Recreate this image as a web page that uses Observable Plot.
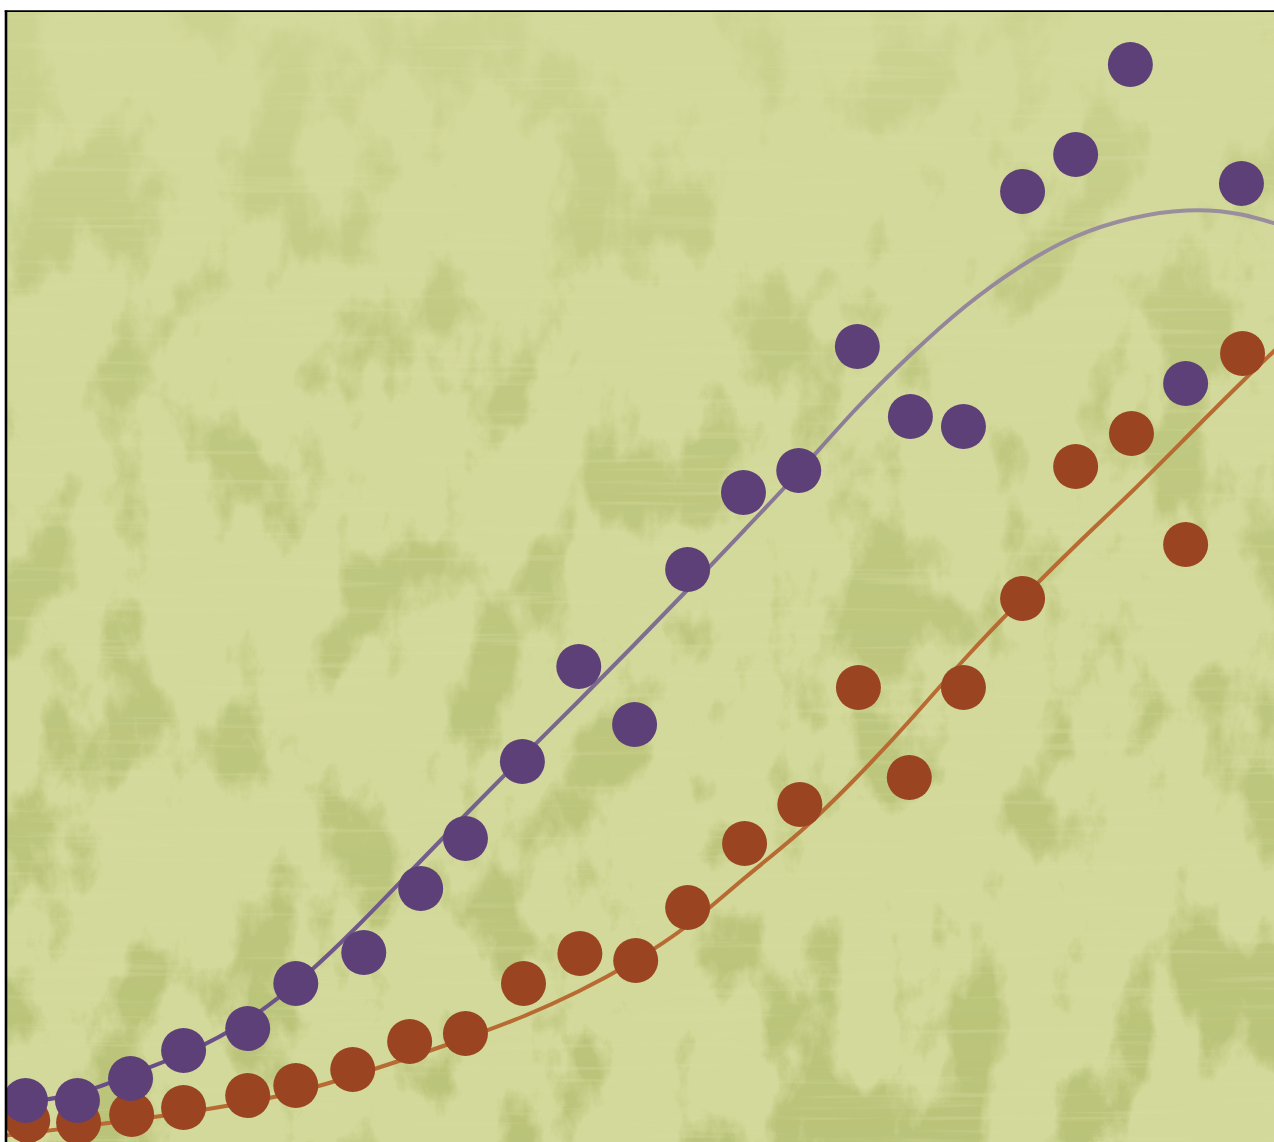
<!DOCTYPE html>
<html>
<head>
<meta charset="utf-8">
<script src="https://cdn.jsdelivr.net/npm/d3@7"></script>
<script src="https://cdn.jsdelivr.net/npm/@observablehq/plot@0.6"></script>
<style>
  html, body { margin: 0; padding: 0; background: #ffffff; }
  #chart svg { display: block; }
</style>
</head>
<body>
<div id="chart"></div>
<script>
// ---- data ----
const purpleX = [1.00, 1.94, 2.90, 3.86, 5.02, 5.89, 7.12, 8.15, 8.96, 9.99, 11.01, 12.02, 12.98, 13.99, 14.99, 16.05, 17.01, 17.97, 19.04, 20.00, 20.99, 21.99, 23.00, 24.00];
const purpleY = [4.2, 4.2, 6.4, 9.2, 11.4, 15.9, 19.0, 25.4, 30.4, 38.1, 47.6, 41.8, 57.3, 65.0, 67.2, 79.6, 72.6, 71.6, 95.1, 98.8, 107.8, 75.9, 95.9, 96.2];

const orangeX = [1.04, 1.96, 2.92, 3.86, 5.02, 5.89, 6.92, 7.95, 8.96, 10.01, 11.03, 12.04, 12.98, 14.01, 15.01, 16.07, 16.99, 17.97, 19.04, 20.00, 21.01, 21.99, 23.02, 24.00];
const orangeY = [2.2, 2.0, 2.8, 3.5, 4.7, 5.7, 7.3, 10.1, 10.9, 15.9, 18.9, 18.2, 23.5, 29.9, 33.8, 45.5, 36.5, 45.5, 54.4, 67.6, 70.9, 59.8, 78.9, 88.6];

// fitted trend curves
const fitX = [0.6, 1, 2, 3, 4, 5, 6, 7, 8, 9, 10, 11, 12, 13, 14, 15, 16, 17, 18, 19, 20, 21, 22, 23, 24];
const purpleFit = [3.7, 4.0, 5.0, 7.0, 9.2, 12.2, 16.4, 21.6, 27.3, 33.0, 38.6, 44.1, 49.7, 55.4, 61.2, 67.1, 73.2, 78.7, 83.6, 87.6, 90.6, 92.4, 93.2, 92.8, 91.2];
const orangeFit = [0.7, 0.9, 1.6, 2.3, 3.1, 4.0, 5.2, 6.8, 8.6, 10.5, 12.6, 15.1, 18.1, 21.8, 26.4, 31.0, 36.3, 42.2, 48.4, 54.2, 59.7, 65.0, 70.5, 76.0, 81.3];

const xDomain = [0.674, 23.598];
const yDomain = [0, 113];

// ---- styling ----
const W = 1274, H = 1142;
const colors = {
  bg: "#d3d99a",
  blotch: [0.73, 0.765, 0.475],
  purple: "#5e4079",
  orange: "#9a4421",
  purpleLineLow: "#674c86",
  purpleLineHigh: "#9a8e9e",
  orangeLine: "#b86a33"
};

const toRows = (xs, ys) => xs.map((x, i) => ({x, y: ys[i]}));
const purple = toRows(purpleX, purpleY);
const orange = toRows(orangeX, orangeY);
const purpleCurve = toRows(fitX, purpleFit);
const orangeCurve = toRows(fitX, orangeFit);

// background texture + gradient defs
function background(index, scales, values, dims) {
  const x0 = dims.marginLeft, y0 = dims.marginTop;
  const w = dims.width - dims.marginLeft - dims.marginRight;
  const h = dims.height - dims.marginTop - dims.marginBottom;
  const g = d3.create("svg:g");
  const defs = g.append("defs");
  const f = defs.append("filter").attr("id", "grunge")
    .attr("filterUnits", "userSpaceOnUse")
    .attr("x", x0).attr("y", y0).attr("width", w).attr("height", h)
    .attr("color-interpolation-filters", "sRGB");
  f.append("feTurbulence").attr("type", "fractalNoise")
    .attr("baseFrequency", "0.013 0.0075").attr("numOctaves", 6).attr("seed", 11).attr("result", "n");
  const [r, gg, b] = colors.blotch;
  f.append("feColorMatrix").attr("in", "n").attr("type", "matrix")
    .attr("values", `0 0 0 0 ${r}  0 0 0 0 ${gg}  0 0 0 0 ${b}  7 0 0 0 -3.6`);

  const f2 = defs.append("filter").attr("id", "streaks")
    .attr("filterUnits", "userSpaceOnUse")
    .attr("x", x0).attr("y", y0).attr("width", w).attr("height", h)
    .attr("color-interpolation-filters", "sRGB");
  f2.append("feTurbulence").attr("type", "fractalNoise")
    .attr("baseFrequency", "0.005 0.14").attr("numOctaves", 3).attr("seed", 3).attr("result", "n");
  f2.append("feColorMatrix").attr("in", "n").attr("type", "matrix")
    .attr("values", `0 0 0 0 0.85  0 0 0 0 0.87  0 0 0 0 0.64  5 0 0 0 -2.9`);

  const grad = defs.append("linearGradient").attr("id", "purpleGrad")
    .attr("gradientUnits", "userSpaceOnUse")
    .attr("x1", 0).attr("x2", 0).attr("y1", scales.y(4)).attr("y2", scales.y(93));
  grad.append("stop").attr("offset", "0%").attr("stop-color", colors.purpleLineLow);
  grad.append("stop").attr("offset", "45%").attr("stop-color", "#7a6890");
  grad.append("stop").attr("offset", "100%").attr("stop-color", colors.purpleLineHigh);

  const fade = defs.append("linearGradient").attr("id", "fadeGrad")
    .attr("gradientUnits", "userSpaceOnUse")
    .attr("x1", 0).attr("x2", 0).attr("y1", y0).attr("y2", dims.height);
  fade.append("stop").attr("offset", "0%").attr("stop-color", "#fff").attr("stop-opacity", 0.25);
  fade.append("stop").attr("offset", "30%").attr("stop-color", "#fff").attr("stop-opacity", 0.75);
  fade.append("stop").attr("offset", "100%").attr("stop-color", "#fff").attr("stop-opacity", 1);
  defs.append("mask").attr("id", "fadeMask").attr("maskUnits", "userSpaceOnUse")
    .attr("x", x0).attr("y", y0).attr("width", w).attr("height", h)
    .append("rect").attr("x", x0).attr("y", y0).attr("width", w).attr("height", h)
    .attr("fill", "url(#fadeGrad)");

  g.append("rect").attr("x", x0).attr("y", y0).attr("width", w).attr("height", h).attr("fill", colors.bg);
  g.append("g").attr("mask", "url(#fadeMask)")
    .append("rect").attr("x", x0).attr("y", y0).attr("width", w).attr("height", h)
    .attr("filter", "url(#grunge)");
  g.append("rect").attr("x", x0).attr("y", y0).attr("width", w).attr("height", h)
    .attr("filter", "url(#streaks)").attr("opacity", 0.3);
  return g.node();
}

function border(index, scales, values, dims) {
  const g = d3.create("svg:g").attr("stroke", "#000").attr("fill", "none");
  g.append("line").attr("x1", dims.marginLeft - 1).attr("x2", dims.marginLeft - 1)
    .attr("y1", dims.marginTop - 1.5).attr("y2", dims.height).attr("stroke-width", 2.6);
  g.append("line").attr("x1", dims.marginLeft - 2.3).attr("x2", dims.width)
    .attr("y1", dims.marginTop - 0.8).attr("y2", dims.marginTop - 0.8).attr("stroke-width", 1.8);
  return g.node();
}

const chart = Plot.plot({
  width: W,
  height: H,
  marginLeft: 7,
  marginTop: 12,
  marginRight: 0,
  marginBottom: 0,
  style: {background: "#ffffff"},
  x: {domain: xDomain, axis: null},
  y: {domain: yDomain, axis: null},
  marks: [
    background,
    Plot.line(orangeCurve, {x: "x", y: "y", stroke: colors.orangeLine, strokeWidth: 4, curve: "natural", clip: true}),
    Plot.dot(orange, {x: "x", y: "y", r: 22.5, fill: colors.orange, stroke: "none", clip: true}),
    Plot.line(purpleCurve, {x: "x", y: "y", stroke: "url(#purpleGrad)", strokeWidth: 4, curve: "natural", clip: true}),
    Plot.dot(purple, {x: "x", y: "y", r: 22.5, fill: colors.purple, stroke: "none", clip: true}),
    border
  ]
});
document.getElementById("chart").appendChild(chart);
</script>
</body>
</html>
